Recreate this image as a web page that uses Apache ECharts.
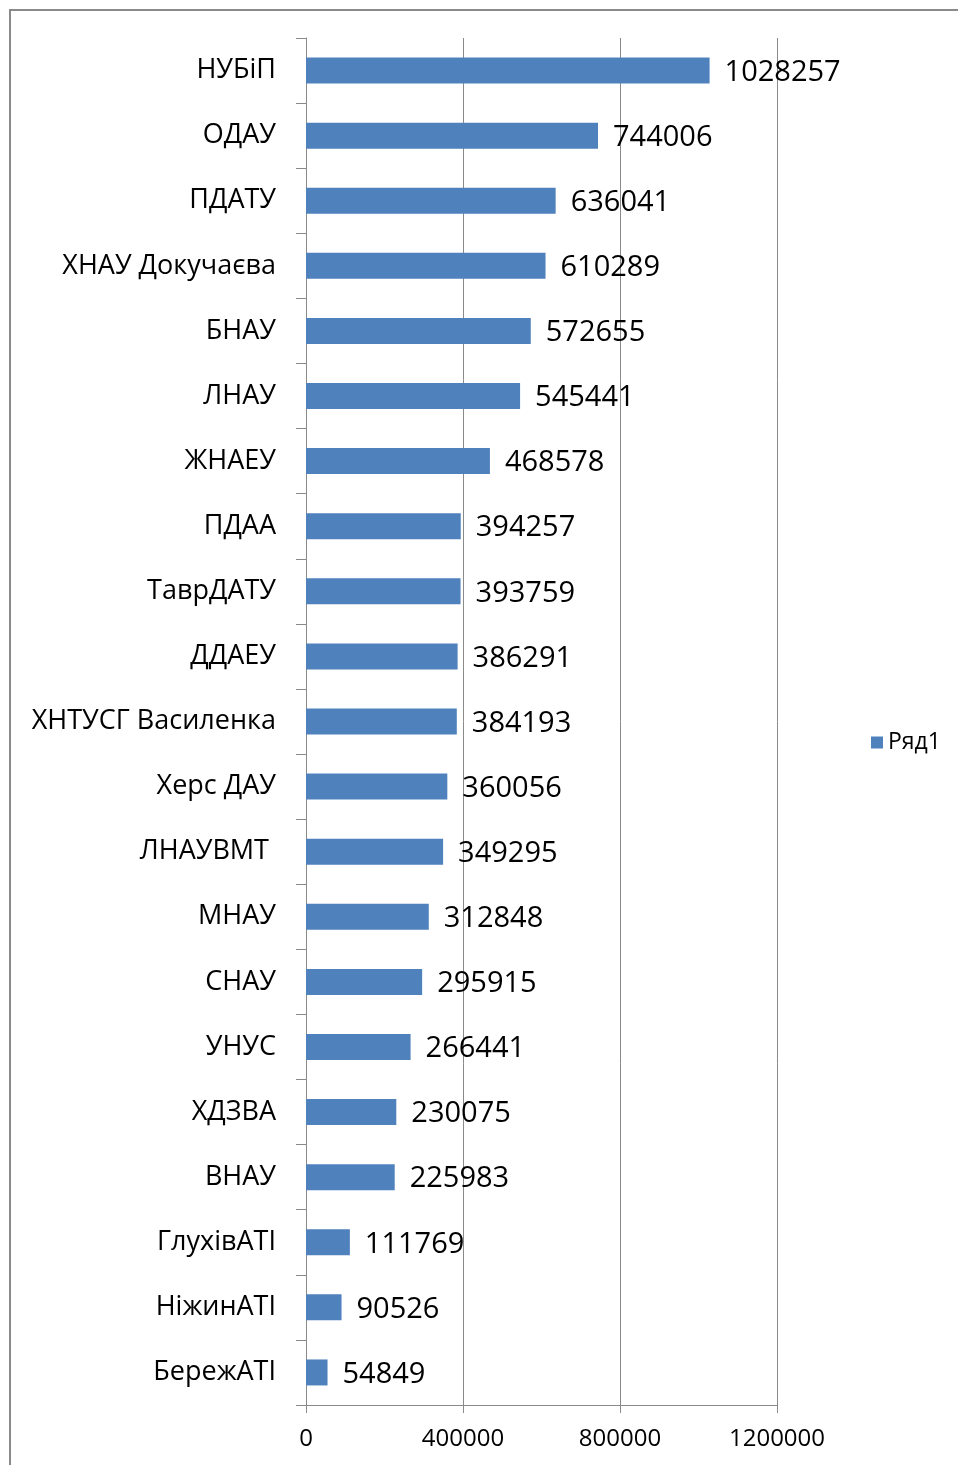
<!DOCTYPE html>
<html>
<head>
<meta charset="utf-8">
<script src="https://cdn.jsdelivr.net/npm/echarts@6/dist/echarts.min.js"></script>
<style>
  html, body { margin: 0; padding: 0; background: #fff; }
  #chart { width: 958px; height: 1465px; }
</style>
</head>
<body>
<div id="chart"></div>
<script>
// categories, top to bottom
var categories = [
  'НУБіП', 'ОДАУ', 'ПДАТУ', 'ХНАУ Докучаєва', 'БНАУ', 'ЛНАУ', 'ЖНАЕУ',
  'ПДАА', 'ТаврДАТУ', 'ДДАЕУ', 'ХНТУСГ Василенка', 'Херс ДАУ', 'ЛНАУВМТ ',
  'МНАУ', 'СНАУ', 'УНУС', 'ХДЗВА', 'ВНАУ', 'ГлухівАТІ', 'НіжинАТІ', 'БережАТІ'
];
var values = [
  1028257, 744006, 636041, 610289, 572655, 545441, 468578,
  394257, 393759, 386291, 384193, 360056, 349295,
  312848, 295915, 266441, 230075, 225983, 111769, 90526, 54849
];
var seriesName = 'Ряд1';

var font = '"Open Sans", "Noto Sans", sans-serif';
var gray = '#8a8a8a';

var chart = echarts.init(document.getElementById('chart'));
chart.setOption({
  animation: false,
  backgroundColor: '#fff',
  graphic: [{
    type: 'rect',
    shape: { x: 10, y: 10, width: 1000, height: 1500 },
    style: { fill: 'none', stroke: gray, lineWidth: 2 },
    silent: true
  }],
  legend: {
    data: [seriesName],
    left: 866,
    top: 726,
    itemWidth: 12,
    itemHeight: 12,
    itemGap: 6,
    icon: 'rect',
    textStyle: { fontFamily: font, fontSize: 23, color: '#000' }
  },
  grid: {
    left: 306,
    right: 181,
    top: 38,
    bottom: 60,
    containLabel: false
  },
  xAxis: {
    type: 'value',
    min: 0,
    max: 1200000,
    interval: 400000,
    axisLine: { show: true, lineStyle: { color: gray, width: 1 } },
    axisTick: { show: true, length: 8, lineStyle: { color: gray } },
    splitLine: { show: true, lineStyle: { color: gray, width: 1 } },
    axisLabel: {
      fontFamily: font, fontSize: 24, color: '#000', margin: 22,
      formatter: function(v) { return String(v); }
    }
  },
  yAxis: {
    type: 'category',
    data: categories,
    inverse: true,
    axisLine: { show: true, lineStyle: { color: gray, width: 1 } },
    axisTick: { show: true, length: 10, lineStyle: { color: gray } },
    axisLabel: {
      fontFamily: font, fontSize: 27, color: '#000', margin: 30,
      padding: [8, 0, 0, 0]
    }
  },
  series: [{
    name: seriesName,
    type: 'bar',
    data: values,
    barWidth: 26,
    itemStyle: { color: '#4F81BD' },
    label: {
      show: true,
      position: 'right',
      distance: 15,
      offset: [0, 2],
      fontFamily: font,
      fontSize: 29,
      color: '#000'
    }
  }]
});
</script>
</body>
</html>
